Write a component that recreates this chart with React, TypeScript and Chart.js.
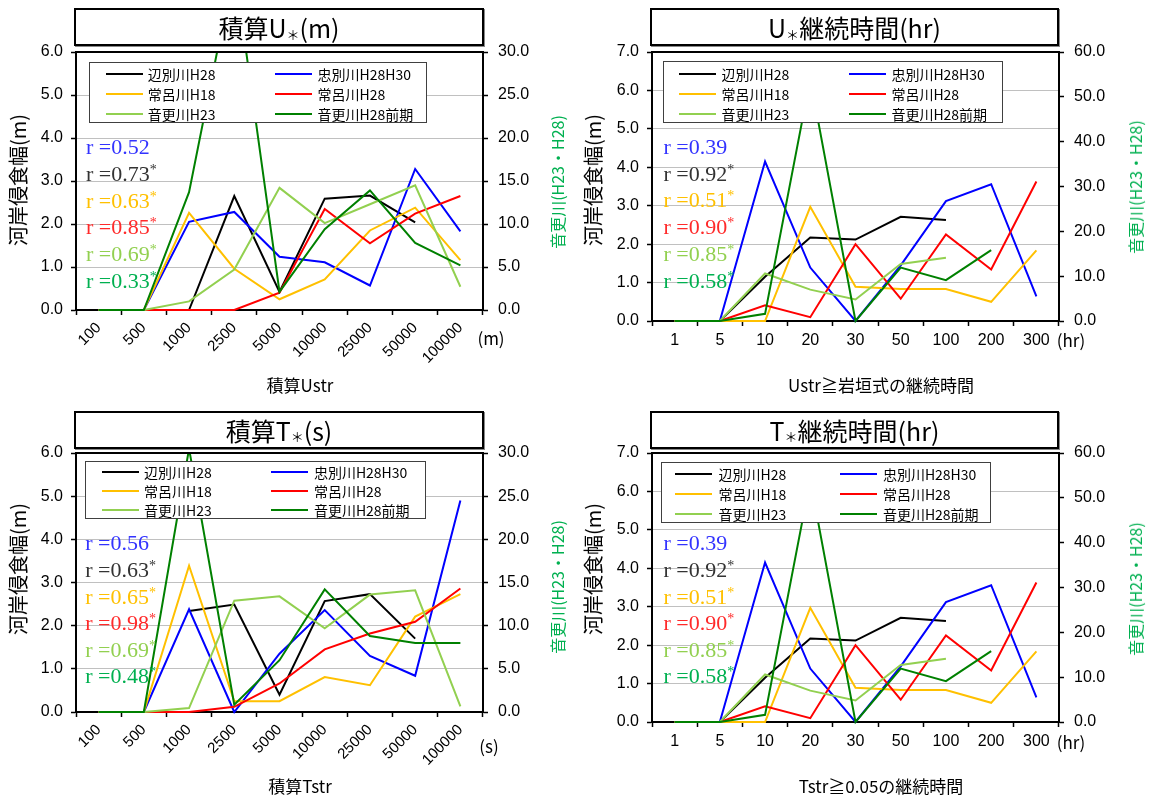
import React, { useEffect, useRef } from 'react';
import { Chart, registerables } from 'chart.js';
Chart.register(...registerables);

// ---------- categories ----------
const CATS_ACCUM = ['100', '500', '1000', '2500', '5000', '10000', '25000', '50000', '100000'];
const CATS_HOURS = ['1', '5', '10', '20', '30', '50', '100', '200', '300'];

// ---------- series names / colours ----------
const SERIES_NAMES = ['辺別川H28', '忠別川H28H30', '常呂川H18', '常呂川H28', '音更川H23', '音更川H28前期'];
const SERIES_COLORS = ['#000000', '#0000ff', '#ffc000', '#ff0000', '#92d050', '#008000'];
// r annotation order: 忠別, 辺別, 常呂H18, 常呂H28, 音更H23, 音更H28
const R_COLORS = ['#3333ff', '#333333', '#ffc000', '#ff2a2a', '#92d050', '#00b050'];

// ---------- panel A : 積算U* ----------
const A_PEBETSU_H28 = [null, null, 0, 2.65, 0.42, 2.59, 2.66, 2.04, null];
const A_CHUBETSU = [0, 0, 2.05, 2.28, 1.24, 1.11, 0.57, 3.28, 1.83];
const A_TOKORO_H18 = [0, 0, 2.26, 0.96, 0.25, 0.71, 1.85, 2.38, 1.16];
const A_TOKORO_H28 = [0, 0, 0, 0, 0.4, 2.35, 1.55, 2.24, 2.65];
const A_OTOFUKE_H23 = [0, 0, 1.0, 4.7, 14.2, 10.1, 12.3, 14.5, 2.7];
const A_OTOFUKE_H28 = [0, 0, 13.7, 40.0, 2.1, 9.4, 13.9, 7.8, 5.2];
const A_R = [0.52, 0.73, 0.63, 0.85, 0.69, 0.33];
const A_SIG = [false, true, true, true, true, true];

// ---------- panel B / D : U*, T* 継続時間 ----------
const B_PEBETSU_H28 = [0, 0, 1.15, 2.17, 2.12, 2.71, 2.63, null, null];
const B_CHUBETSU = [0, 0, 4.15, 1.39, 0, 1.45, 3.12, 3.56, 0.64];
const B_TOKORO_H18 = [0, 0, 0, 2.97, 0.89, 0.83, 0.83, 0.5, 1.84];
const B_TOKORO_H28 = [0, 0, 0.41, 0.1, 2.0, 0.58, 2.25, 1.34, 3.63];
const B_OTOFUKE_H23 = [0, 0, 10.6, 7.0, 4.8, 12.7, 14.1, null, null];
const B_OTOFUKE_H28 = [0, 0, 1.6, 54.0, 0, 11.9, 9.1, 15.8, null];
const B_R = [0.39, 0.92, 0.51, 0.9, 0.85, 0.58];
const B_SIG = [false, true, true, true, true, true];

// ---------- panel C : 積算T* ----------
const C_PEBETSU_H28 = [null, null, 2.34, 2.49, 0.4, 2.57, 2.73, 1.7, null];
const C_CHUBETSU = [0, 0, 2.38, 0, 1.35, 2.36, 1.3, 0.84, 4.9];
const C_TOKORO_H18 = [0, 0, 3.39, 0.25, 0.25, 0.81, 0.62, 2.21, 2.73];
const C_TOKORO_H28 = [0, 0, 0, 0.12, 0.66, 1.45, 1.82, 2.09, 2.86];
const C_OTOFUKE_H23 = [0, 0, 0.46, 12.9, 13.4, 9.7, 13.6, 14.1, 0.65];
const C_OTOFUKE_H28 = [0, 0, 30.5, 0.85, 6.0, 14.2, 8.8, 8.0, 8.0];
const C_R = [0.56, 0.63, 0.65, 0.98, 0.69, 0.48];
const C_SIG = [false, true, true, true, true, true];

const JP = "'Noto Sans CJK JP', 'Noto Sans', sans-serif";
const NUM = "'Liberation Sans', Arial, sans-serif";
const SERIF = "'Liberation Serif', 'Times New Roman', serif";

type PanelCfg = {
  ox: number; oy: number;
  cats: string[];
  series: (number | null)[][];
  yMax: number; y2Max: number; y2Step: number;
  rotate: boolean;
  plot: { l: number; r: number; t: number; b: number };
  title: [string, string];
  titleBox: { l: number; t: number; w: number; h: number };
  legend: { l: number; t: number; w: number; h: number; line1: number; text1: number; line2: number; text2: number; rows: number[] };
  rVals: number[]; rSig: boolean[]; rx: number; ry: number; rdy: number;
  leftTitle: { cx: number; cy: number };
  rightTitle: { cx: number; cy: number };
  unit: { text: string; cx: number; cy: number };
  xTitle: { text: string; cx: number; cy: number };
};

const framePlugin = {
  id: 'frameTop',
  afterDraw(chart: any) {
    const { ctx, chartArea } = chart;
    ctx.save();
    ctx.strokeStyle = '#000';
    ctx.lineWidth = 2;
    ctx.beginPath();
    ctx.moveTo(chartArea.left, chartArea.top);
    ctx.lineTo(chartArea.right, chartArea.top);
    ctx.stroke();
    ctx.restore();
  },
};

function Panel({ cfg }: { cfg: PanelCfg }) {
  const ref = useRef<HTMLCanvasElement | null>(null);
  useEffect(() => {
    const p = cfg.plot;
    const chart = new Chart(ref.current as HTMLCanvasElement, {
      type: 'line',
      data: {
        labels: cfg.cats,
        datasets: cfg.series.map((d, i) => ({
          label: SERIES_NAMES[i],
          data: d,
          borderColor: SERIES_COLORS[i],
          backgroundColor: SERIES_COLORS[i],
          borderWidth: 2,
          pointRadius: 0,
          tension: 0,
          order: SERIES_NAMES.length - i,
          clip: { left: 2, right: 2, top: 0, bottom: 3 },
          yAxisID: i >= 4 ? 'y2' : 'y',
        })),
      },
      options: {
        responsive: false,
        animation: false,
        devicePixelRatio: 1,
        layout: { padding: { top: p.t, left: 0, right: 0, bottom: 0 } },
        plugins: { legend: { display: false }, tooltip: { enabled: false } },
        scales: {
          x: {
            type: 'category',
            offset: true,
            grid: { offset: true, drawOnChartArea: false, drawTicks: true, tickLength: 5, tickColor: '#000', tickWidth: 1.5 },
            border: { color: '#000', width: 2 },
            ticks: {
              color: '#000',
              autoSkip: false,
              maxRotation: cfg.rotate ? 45 : 0,
              minRotation: cfg.rotate ? 45 : 0,
              padding: cfg.rotate ? 4 : 5,
              font: { family: NUM, size: cfg.rotate ? 15 : 16 },
            },
            afterFit: (s: any) => { s.height = 400 - p.b; },
          },
          y: {
            position: 'left',
            min: 0,
            max: cfg.yMax,
            grid: { color: '#c0c0c0', lineWidth: 1, tickColor: '#000', tickLength: 5, tickWidth: 1.5 },
            border: { color: '#000', width: 2 },
            ticks: { stepSize: 1, color: '#000', padding: 8, font: { family: NUM, size: 16 }, callback: (v: any) => Number(v).toFixed(1) },
            afterFit: (s: any) => { s.width = p.l; },
          },
          y2: {
            position: 'right',
            min: 0,
            max: cfg.y2Max,
            grid: { drawOnChartArea: false, tickColor: '#000', tickLength: 5, tickWidth: 1.5 },
            border: { color: '#000', width: 2 },
            ticks: { stepSize: cfg.y2Step, color: '#000', padding: 10, font: { family: NUM, size: 16 }, callback: (v: any) => Number(v).toFixed(1) },
            afterFit: (s: any) => { s.width = 576 - p.r; },
          },
        },
      },
      plugins: [framePlugin],
    } as any);
    return () => chart.destroy();
  }, []);

  const lg = cfg.legend;
  return (
    <div style={{ position: 'absolute', left: cfg.ox, top: cfg.oy, width: 576, height: 400 }}>
      <canvas ref={ref} width={576} height={400} style={{ position: 'absolute', left: 0, top: 0, display: 'block' }} />
      {/* title box */}
      <div style={{
        position: 'absolute', left: cfg.titleBox.l, top: cfg.titleBox.t, width: cfg.titleBox.w, height: cfg.titleBox.h,
        border: '2px solid #000', boxSizing: 'border-box', background: '#fff',
        display: 'flex', alignItems: 'center', justifyContent: 'center',
        fontFamily: JP, fontSize: 25, color: '#000', whiteSpace: 'nowrap', boxShadow: '1px 1px 0 #888',
      }}>
        <span>{cfg.title[0]}</span>
        <span style={{ fontSize: 13, position: 'relative', top: 7 }}>＊</span>
        <span>{cfg.title[1]}</span>
      </div>
      {/* legend */}
      <div style={{
        position: 'absolute', left: lg.l, top: lg.t, width: lg.w, height: lg.h,
        border: '1px solid #404040', boxSizing: 'border-box', background: '#fff',
      }}>
        {SERIES_NAMES.map((n, i) => {
          const col = i % 2;
          const row = Math.floor(i / 2);
          const lx = col === 0 ? lg.line1 : lg.line2;
          const tx = col === 0 ? lg.text1 : lg.text2;
          const y = lg.rows[row];
          return (
            <React.Fragment key={n}>
              <div style={{ position: 'absolute', left: lx, top: y - 1, width: 37, height: 2, background: SERIES_COLORS[i] }} />
              <div style={{ position: 'absolute', left: tx, top: y - 10, height: 20, lineHeight: '20px', fontFamily: JP, fontSize: 14, color: '#000', whiteSpace: 'nowrap' }}>{n}</div>
            </React.Fragment>
          );
        })}
      </div>
      {/* r annotations */}
      {cfg.rVals.map((r, i) => (
        <div key={i} style={{
          position: 'absolute', left: cfg.rx, top: cfg.ry + i * cfg.rdy - 13, height: 26, lineHeight: '26px',
          fontFamily: SERIF, fontSize: 22, color: R_COLORS[i], whiteSpace: 'nowrap',
        }}>
          {'r =' + r.toFixed(2)}
          {cfg.rSig[i] ? <span style={{ fontSize: 14, position: 'relative', top: -7 }}>*</span> : null}
        </div>
      ))}
      {/* axis titles */}
      <div style={{
        position: 'absolute', left: cfg.leftTitle.cx, top: cfg.leftTitle.cy, transform: 'translate(-50%, -50%) rotate(-90deg)',
        fontFamily: JP, fontSize: 20, color: '#000', whiteSpace: 'nowrap', lineHeight: '24px',
      }}>河岸侵食幅(m)</div>
      <div style={{
        position: 'absolute', left: cfg.rightTitle.cx, top: cfg.rightTitle.cy, transform: 'translate(-50%, -50%) rotate(-90deg)',
        fontFamily: JP, fontSize: 16, color: '#00b050', whiteSpace: 'nowrap', lineHeight: '20px',
      }}>音更川(H23・H28)</div>
      <div style={{
        position: 'absolute', left: cfg.unit.cx, top: cfg.unit.cy, transform: 'translate(-50%, -50%)',
        fontFamily: JP, fontSize: 17, color: '#000', whiteSpace: 'nowrap', lineHeight: '22px',
      }}>{cfg.unit.text}</div>
      <div style={{
        position: 'absolute', left: cfg.xTitle.cx, top: cfg.xTitle.cy, transform: 'translate(-50%, -50%)',
        fontFamily: JP, fontSize: 17, color: '#000', whiteSpace: 'nowrap', lineHeight: '22px',
      }}>{cfg.xTitle.text}</div>
    </div>
  );
}

const LEG_STD = { line1: 15.5, text1: 57.7, line2: 184.6, text2: 227.6 };

const PANELS: PanelCfg[] = [
  {
    ox: 0, oy: 0, cats: CATS_ACCUM,
    series: [A_PEBETSU_H28, A_CHUBETSU, A_TOKORO_H18, A_TOKORO_H28, A_OTOFUKE_H23, A_OTOFUKE_H28],
    yMax: 6, y2Max: 30, y2Step: 5, rotate: true,
    plot: { l: 76, r: 483, t: 52, b: 310 },
    title: ['積算U', '(m)'],
    titleBox: { l: 74, t: 8, w: 410, h: 38 },
    legend: { l: 89, t: 62, w: 338, h: 61, ...LEG_STD, rows: [11, 31, 51] },
    rVals: A_R, rSig: A_SIG, rx: 86, ry: 146.7, rdy: 26.9,
    leftTitle: { cx: 18, cy: 180 }, rightTitle: { cx: 557, cy: 182 },
    unit: { text: '(m)', cx: 491, cy: 338 },
    xTitle: { text: '積算Ustr', cx: 300, cy: 385 },
  },
  {
    ox: 576, oy: 0, cats: CATS_HOURS,
    series: [B_PEBETSU_H28, B_CHUBETSU, B_TOKORO_H18, B_TOKORO_H28, B_OTOFUKE_H23, B_OTOFUKE_H28],
    yMax: 7, y2Max: 60, y2Step: 10, rotate: false,
    plot: { l: 76, r: 483, t: 52, b: 321 },
    title: ['U', '継続時間(hr)'],
    titleBox: { l: 74, t: 8, w: 409, h: 38 },
    legend: { l: 86.5, t: 61, w: 340, h: 62, line1: 15.8, text1: 58.1, line2: 185.6, text2: 227.9, rows: [11.7, 31.7, 51.7] },
    rVals: B_R, rSig: B_SIG, rx: 87.5, ry: 146.7, rdy: 26.8,
    leftTitle: { cx: 17, cy: 180 }, rightTitle: { cx: 559, cy: 187 },
    unit: { text: '(hr)', cx: 495, cy: 340 },
    xTitle: { text: 'Ustr≧岩垣式の継続時間', cx: 305, cy: 385 },
  },
  {
    ox: 0, oy: 400, cats: CATS_ACCUM,
    series: [C_PEBETSU_H28, C_CHUBETSU, C_TOKORO_H18, C_TOKORO_H28, C_OTOFUKE_H23, C_OTOFUKE_H28],
    yMax: 6, y2Max: 30, y2Step: 5, rotate: true,
    plot: { l: 76, r: 483, t: 53, b: 312 },
    title: ['積算T', '(s)'],
    titleBox: { l: 74, t: 10.5, w: 410, h: 38 },
    legend: { l: 85.3, t: 60.7, w: 340.4, h: 58.3, ...LEG_STD, rows: [10.3, 29.3, 48.6] },
    rVals: C_R, rSig: C_SIG, rx: 85.3, ry: 143.3, rdy: 26.6,
    leftTitle: { cx: 18, cy: 169 }, rightTitle: { cx: 557, cy: 187 },
    unit: { text: '(s)', cx: 489, cy: 346 },
    xTitle: { text: '積算Tstr', cx: 300, cy: 386 },
  },
  {
    ox: 576, oy: 400, cats: CATS_HOURS,
    series: [B_PEBETSU_H28, B_CHUBETSU, B_TOKORO_H18, B_TOKORO_H28, B_OTOFUKE_H23, B_OTOFUKE_H28],
    yMax: 7, y2Max: 60, y2Step: 10, rotate: false,
    plot: { l: 76, r: 483, t: 53, b: 322 },
    title: ['T', '継続時間(hr)'],
    titleBox: { l: 74, t: 10.5, w: 409, h: 38 },
    legend: { l: 85.3, t: 62, w: 329.4, h: 60.7, line1: 13.2, text1: 56.2, line2: 177.6, text2: 220.6, rows: [10.7, 30.7, 50.7] },
    rVals: B_R, rSig: B_SIG, rx: 87.5, ry: 143.3, rdy: 26.6,
    leftTitle: { cx: 17, cy: 169 }, rightTitle: { cx: 559, cy: 189 },
    unit: { text: '(hr)', cx: 495, cy: 342 },
    xTitle: { text: 'Tstr≧0.05の継続時間', cx: 305, cy: 386 },
  },
];

export default function App() {
  return (
    <div style={{ position: 'absolute', left: 0, top: 0, width: 1152, height: 798, background: '#fff', overflow: 'hidden' }}>
      {PANELS.map((c, i) => <Panel key={i} cfg={c} />)}
    </div>
  );
}
